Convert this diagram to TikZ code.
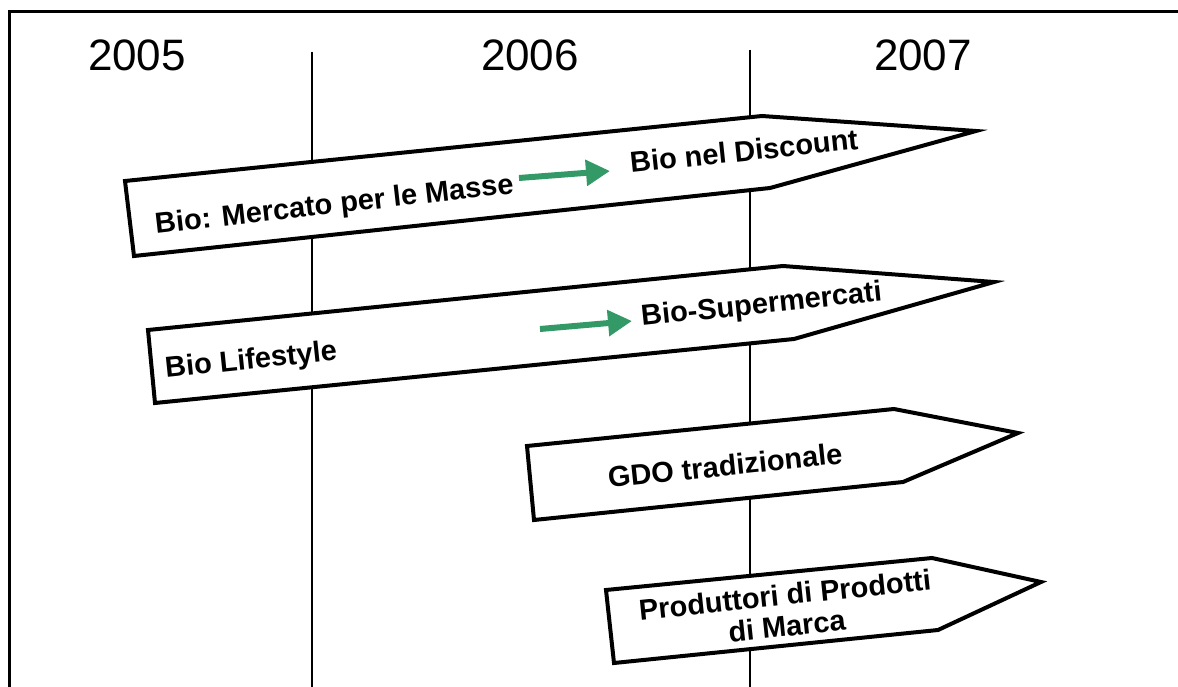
\documentclass[tikz,border=0pt]{standalone}
\usepackage{fontspec}
\setmainfont{Liberation Sans}
\usetikzlibrary{arrows.meta}
\definecolor{arrgreen}{RGB}{51,153,102}
\tikzset{
  frameline/.style={line width=3pt},
  yearline/.style={line width=1.3pt},
  signpost/.style={draw, fill=white, line width=4pt, line join=miter},
  lbl/.style={font=\fontsize{29}{31}\selectfont\bfseries, inner sep=0pt, rotate=6, anchor=base west},
  lblc/.style={font=\fontsize{29}{31}\selectfont\bfseries, inner sep=0pt, rotate=6, anchor=base},
  year/.style={font=\fontsize{44}{48}\selectfont, inner sep=0pt, anchor=base},
  flow/.style={draw=arrgreen, line width=6pt, -{Triangle[length=24pt,width=25pt]}}
}
\begin{document}
\begin{tikzpicture}[x=1pt,y=-1pt]
\useasboundingbox (0,0) rectangle (1178,687);
% frame
\draw[frameline] (9,687) -- (9,12) -- (1178,12);
% timeline separators
\coordinate (s1t) at (312,52); \coordinate (s1b) at (312,687);
\coordinate (s2t) at (750,50); \coordinate (s2b) at (750,687);
\draw[yearline] (s1t) -- (s1b);
\draw[yearline] (s2t) -- (s2b);
% years
\node[year] (y2005) at (137,71) {2005};
\node[year] (y2006) at (530,71) {2006};
\node[year] (y2007) at (923,71) {2007};
% signposts
\draw[signpost] (125,181) -- (762,116) -- (976,131) -- (770,188) -- (134,256) -- cycle;
\draw[signpost] (148,330) -- (783,266) -- (994,282) -- (794,339) -- (155,403) -- cycle;
\draw[signpost] (527,446) -- (894,409) -- (1018,433) -- (903,482) -- (534,520) -- cycle;
\draw[signpost] (606,590) -- (932,558) -- (1041,582) -- (938,630) -- (614,663) -- cycle;
% labels
\node[lbl, rotate=0.5] (massa) at (156,234) {Bio: Mercato per le Masse};
\node[lbl] (disc) at (631,173) {Bio nel Discount};
\node[lbl] (life) at (166,378) {Bio Lifestyle};
\node[lbl] (super) at (642,326) {Bio-Supermercati};
\node[lbl] (gdo) at (609,488) {GDO tradizionale};
\node[lblc] (prod1) at (786,605) {Produttori di Prodotti};
\node[lblc] (prod2) at (788,636) {di Marca};
% green arrows
\coordinate (g1a) at (519,178); \coordinate (g1b) at (610,171);
\coordinate (g2a) at (540,329); \coordinate (g2b) at (632,321);
\draw[flow] (g1a) -- (g1b);
\draw[flow] (g2a) -- (g2b);
\end{tikzpicture}
\end{document}
